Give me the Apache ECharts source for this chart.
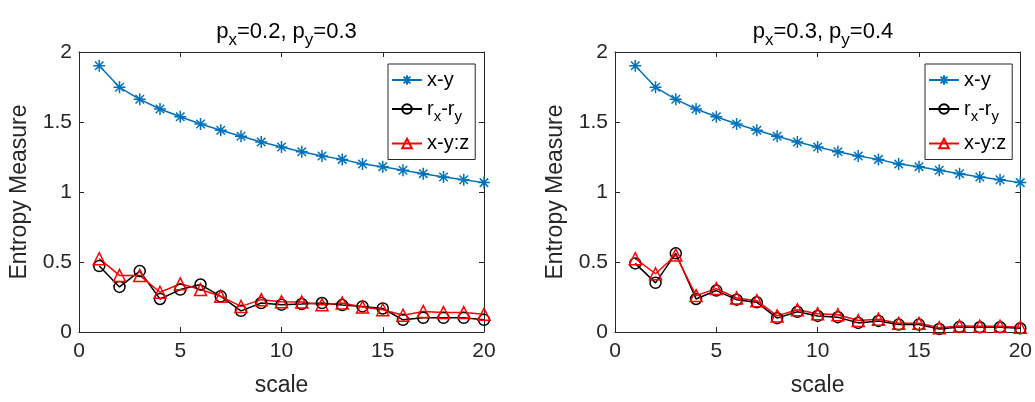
<!DOCTYPE html>
<html>
<head>
<meta charset="utf-8">
<script src="https://cdn.jsdelivr.net/npm/echarts@6/dist/echarts.min.js"></script>
<style>
  html, body { margin: 0; padding: 0; background: #fff; }
  #chart { width: 1035px; height: 402px; }
</style>
</head>
<body>
<div id="chart"></div>
<script>
// scale 1..20
var scales = [1, 2, 3, 4, 5, 6, 7, 8, 9, 10, 11, 12, 13, 14, 15, 16, 17, 18, 19, 20];
// x-y curve (same in both panels)
var xyEntropy = [1.902, 1.748, 1.662, 1.593, 1.538, 1.486, 1.441, 1.398, 1.357, 1.321,
                 1.288, 1.257, 1.233, 1.200, 1.181, 1.155, 1.131, 1.107, 1.088, 1.067];
// px=0.2, py=0.3
var rxryLeft = [0.471, 0.322, 0.435, 0.236, 0.303, 0.339, 0.255, 0.151, 0.207, 0.195,
                0.200, 0.207, 0.192, 0.183, 0.168, 0.087, 0.101, 0.101, 0.101, 0.087];
var xyzLeft = [0.524, 0.404, 0.404, 0.284, 0.344, 0.303, 0.255, 0.183, 0.231, 0.216,
               0.214, 0.195, 0.207, 0.178, 0.159, 0.120, 0.147, 0.139, 0.139, 0.127];
// px=0.3, py=0.4
var rxryRight = [0.490, 0.351, 0.562, 0.236, 0.296, 0.231, 0.212, 0.099, 0.144, 0.115,
                 0.106, 0.065, 0.079, 0.053, 0.053, 0.022, 0.036, 0.034, 0.034, 0.026];
var xyzRight = [0.524, 0.416, 0.550, 0.260, 0.310, 0.243, 0.224, 0.115, 0.159, 0.130,
                0.123, 0.082, 0.091, 0.062, 0.062, 0.031, 0.043, 0.041, 0.041, 0.034];
var xTicks = { min: 0, max: 20, interval: 5 };
var yTicks = { min: 0, max: 2, interval: 0.5 };
var titles = ['{m|p}{s|x}{m|=0.2, p}{s|y}{m|=0.3}', '{m|p}{s|x}{m|=0.3, p}{s|y}{m|=0.4}'];

var FONT = 'Liberation Sans';
var AX = '#262626';
var BLUE = '#0072BD';
var star = 'path://M0,-10L0,10M-10,0L10,0M-7.07,-7.07L7.07,7.07M-7.07,7.07L7.07,-7.07';

function pairs(vals) {
  return scales.map(function (s, i) { return [s, vals[i]]; });
}

var myChart = echarts.init(document.getElementById('chart'));

var grids = [
  { left: 79, right: 551, top: 52, bottom: 70 },
  { left: 615, right: 14, top: 52, bottom: 70 }
];

var xAxes = [], yAxes = [], series = [], legends = [], titleList = [];
var legendLeft = [388, 925];
var titleCenter = [281.5, 818];
var sets = [[rxryLeft, xyzLeft], [rxryRight, xyzRight]];

grids.forEach(function (g, gi) {
  // bottom + top x axis
  xAxes.push({
    gridIndex: gi, type: 'value', position: 'bottom',
    min: xTicks.min, max: xTicks.max, interval: xTicks.interval,
    name: 'scale', nameLocation: 'middle', nameGap: 42,
    nameTextStyle: { fontFamily: FONT, fontSize: 23, color: AX },
    axisLine: { onZero: false, lineStyle: { color: AX, width: 1 } },
    axisTick: { inside: true, length: 5, lineStyle: { color: AX } },
    axisLabel: { fontFamily: FONT, fontSize: 21, color: AX, margin: 9, showMinLabel: true, showMaxLabel: true },
    splitLine: { show: false }
  });
  xAxes.push({
    gridIndex: gi, type: 'value', position: 'top',
    min: xTicks.min, max: xTicks.max, interval: xTicks.interval,
    axisLine: { onZero: false, lineStyle: { color: AX, width: 1 } },
    axisTick: { inside: true, length: 5, lineStyle: { color: AX } },
    axisLabel: { show: false },
    splitLine: { show: false }
  });
  // left + right y axis
  yAxes.push({
    gridIndex: gi, type: 'value', position: 'left',
    min: yTicks.min, max: yTicks.max, interval: yTicks.interval,
    name: 'Entropy Measure', nameLocation: 'middle', nameGap: 48,
    nameTextStyle: { fontFamily: FONT, fontSize: 23, color: AX },
    axisLine: { show: true, onZero: false, lineStyle: { color: AX, width: 1 } },
    axisTick: { show: true, inside: true, length: 5, lineStyle: { color: AX } },
    axisLabel: { fontFamily: FONT, fontSize: 21, color: AX, margin: 7, showMinLabel: true, showMaxLabel: true },
    splitLine: { show: false }
  });
  yAxes.push({
    gridIndex: gi, type: 'value', position: 'right',
    min: yTicks.min, max: yTicks.max, interval: yTicks.interval,
    axisLine: { show: true, onZero: false, lineStyle: { color: AX, width: 1 } },
    axisTick: { show: true, inside: true, length: 5, lineStyle: { color: AX } },
    axisLabel: { show: false },
    splitLine: { show: false }
  });

  var xi = gi * 2, yi = gi * 2;
  series.push({
    name: 'x-y', type: 'line', xAxisIndex: xi, yAxisIndex: yi,
    data: pairs(xyEntropy), symbol: star, symbolSize: 12,
    lineStyle: { color: BLUE, width: 1.5 },
    itemStyle: { color: 'none', borderColor: BLUE, borderWidth: 1.5 },
    emphasis: { disabled: true }, animation: false
  });
  series.push({
    name: 'rx-ry', type: 'line', xAxisIndex: xi, yAxisIndex: yi,
    data: pairs(sets[gi][0]), symbol: 'circle', symbolSize: 11,
    lineStyle: { color: '#000', width: 1.5 },
    itemStyle: { color: 'none', borderColor: '#000', borderWidth: 1.5 },
    emphasis: { disabled: true }, animation: false
  });
  series.push({
    name: 'x-y:z', type: 'line', xAxisIndex: xi, yAxisIndex: yi,
    data: pairs(sets[gi][1]), symbol: 'triangle', symbolSize: 12,
    lineStyle: { color: '#ff0000', width: 1.5 },
    itemStyle: { color: 'none', borderColor: '#ff0000', borderWidth: 1.5 },
    emphasis: { disabled: true }, animation: false
  });

  legends.push({
    left: legendLeft[gi], top: 64, orient: 'vertical',
    backgroundColor: '#fff', borderColor: AX, borderWidth: 1,
    padding: [6, 6, 6, 3], itemGap: 9, itemWidth: 30, itemHeight: 12,
    selectedMode: false,
    data: ['x-y', 'rx-ry', 'x-y:z'],
    formatter: function (name) {
      if (name === 'rx-ry') return '{m|r}{s|x}{m|-r}{s|y}';
      return '{m|' + name + '}';
    },
    textStyle: {
      fontFamily: FONT, color: '#000',
      rich: {
        m: { fontFamily: FONT, fontSize: 20, color: '#000' },
        s: { fontFamily: FONT, fontSize: 15, color: '#000', padding: [16, 0, 0, 0] }
      }
    }
  });

  titleList.push({
    text: titles[gi], left: titleCenter[gi], top: 9, textAlign: 'center',
    textStyle: {
      fontWeight: 'normal',
      rich: {
        m: { fontFamily: FONT, fontSize: 22, fontWeight: 'normal', color: '#000' },
        s: { fontFamily: FONT, fontSize: 17, fontWeight: 'normal', color: '#000', padding: [18, 0, 0, 0] }
      }
    }
  });
});

myChart.setOption({
  animation: false,
  title: titleList,
  grid: grids,
  xAxis: xAxes,
  yAxis: yAxes,
  legend: legends,
  series: series
});
</script>
</body>
</html>
